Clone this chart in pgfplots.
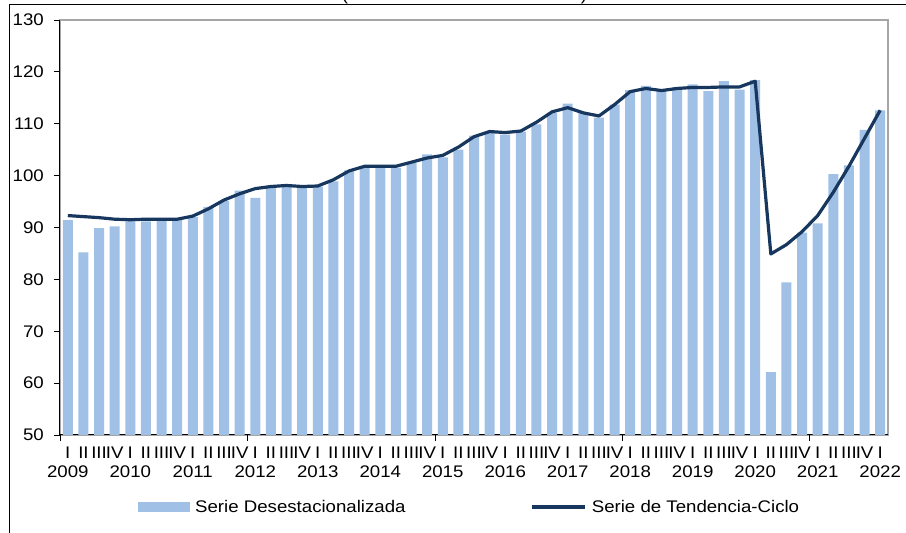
\documentclass[border=0pt]{standalone}
\usepackage{pgfplots}
\usepackage{pgfplotstable}
\pgfplotsset{compat=1.18}
\usepackage{fontspec}
\setmainfont{Liberation Sans}[FakeStretch=1.11]
\definecolor{barc}{HTML}{A0C0E6}
\definecolor{linec}{HTML}{17375E}
\definecolor{boxgray}{HTML}{A6A6A6}
\pgfplotstableread{
x bar trend
0 91.4 92.3
1 85.2 92.1
2 89.9 91.9
3 90.2 91.6
4 91.7 91.5
5 91.2 91.6
6 91.5 91.6
7 91.5 91.6
8 92.0 92.2
9 94.0 93.6
10 95.1 95.3
11 97.1 96.5
12 95.7 97.5
13 97.7 97.9
14 98.0 98.1
15 97.6 97.9
16 97.9 98.0
17 98.9 99.2
18 101.0 100.9
19 101.5 101.8
20 101.5 101.8
21 101.5 101.8
22 102.5 102.6
23 104.1 103.4
24 103.5 103.9
25 105.0 105.5
26 107.7 107.5
27 108.4 108.5
28 107.9 108.3
29 108.5 108.6
30 109.9 110.3
31 112.1 112.3
32 113.9 113.1
33 112.1 112.1
34 111.2 111.5
35 113.7 113.7
36 116.5 116.2
37 117.3 116.8
38 116.3 116.4
39 117.0 116.8
40 117.6 117.0
41 116.3 117.0
42 118.2 117.1
43 116.6 117.1
44 118.4 118.2
45 62.1 84.9
46 79.4 86.7
47 89.0 89.2
48 90.8 92.3
49 100.3 96.8
50 102.0 101.8
51 108.8 107.2
52 112.6 112.6
}\datatable
\begin{document}
\begin{tikzpicture}
\path[use as bounding box] (0pt,0pt) rectangle (906pt,533pt);
\draw[line width=1pt] (9.5pt,0pt) -- (9.5pt,528.5pt) -- (906pt,528.5pt);
\node[anchor=base, inner sep=0pt, font=\fontsize{16.8}{19}\selectfont] at (345pt,532pt) {(};
\node[anchor=base, inner sep=0pt, font=\fontsize{16.8}{19}\selectfont] at (584pt,532pt) {)};
\begin{axis}[
  at={(60pt,98pt)}, anchor=south west,
  scale only axis, width=828pt, height=415pt,
  xmin=-0.5, xmax=52.5, ymin=50, ymax=130,
  axis x line*=bottom, axis y line*=left,
  axis line style={black, line width=1pt},
  axis background/.style={draw=boxgray, line width=1.6pt},
  ytick={50,60,...,130},
  tick align=outside,
  major tick length=6pt,
  every tick/.style={black, line width=0.8pt},
  /pgf/number format/assume math mode=true,
  yticklabel style={font=\fontsize{16.8}{19}\selectfont, anchor=east, inner sep=0pt, xshift=-10pt},
  xtick={-0.5,11.5,23.5,35.5,47.5},
  xticklabels={},
  extra x ticks={0,...,52},
  extra x tick labels={{I\\2009},II,III,IV,{I\\2010},II,III,IV,{I\\2011},II,III,IV,{I\\2012},II,III,IV,{I\\2013},II,III,IV,{I\\2014},II,III,IV,{I\\2015},II,III,IV,{I\\2016},II,III,IV,{I\\2017},II,III,IV,{I\\2018},II,III,IV,{I\\2019},II,III,IV,{I\\2020},II,III,IV,{I\\2021},II,III,IV,{I\\2022}},
  extra x tick style={major tick length=0pt, xticklabel style={font=\fontsize{16.8}{19}\selectfont, align=center, anchor=north, inner sep=0pt, yshift=-12pt}},
  legend columns=2,
  legend style={draw=none, fill=none, at={(0.0942,-0.1735)}, anchor=west,
    inner xsep=0pt, inner ysep=0pt, nodes={inner sep=0pt},
    font=\fontsize{16.8}{19}\selectfont,
    /tikz/every odd column/.append style={column sep=5pt},
    /tikz/every even column/.append style={column sep=125pt}},
  clip=false,
]
\addplot[ybar, bar width=10pt, fill=barc, draw=none,
  legend image code/.code={\fill[barc] (0pt,-5pt) rectangle (52pt,5pt);}]
  table[x=x, y=bar] {\datatable};
\addlegendentry{Serie Desestacionalizada}
\addplot[linec, line width=3.2pt, line join=round, mark=none,
  legend image code/.code={\draw[linec, line width=3.2pt] (0pt,0pt) -- (53pt,0pt);}]
  table[x=x, y=trend] {\datatable};
\addlegendentry{Serie de Tendencia-Ciclo}
\end{axis}
\end{tikzpicture}
\end{document}
